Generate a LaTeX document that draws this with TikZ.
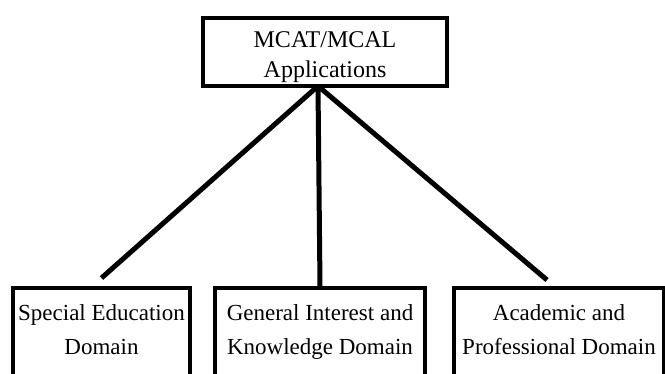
\documentclass[tikz,border=0pt]{standalone}
\usepackage{fontspec}
\setmainfont{Liberation Serif}

\begin{document}
\begin{tikzpicture}[x=1pt,y=-1pt,
	box/.style={draw,line width=4pt,align=center,inner xsep=2pt,inner ysep=4pt,anchor=north},
	domainbox/.style={box,text height=62pt,text depth=26pt,font=\fontsize{23}{34}\selectfont},
	link/.style={line width=5pt}]
\useasboundingbox (0,0) rectangle (665,373);

	% top box
	\node[box,minimum width=244pt,text height=55pt,text depth=5pt,font=\fontsize{24}{30}\selectfont] (apps) at (325,16) {MCAT/MCAL\\Applications};

	% the three domains
	\node[domainbox,minimum width=177pt] (special) at (101.5,286) {Special Education\\Domain};
	\node[domainbox,minimum width=210pt] (general) at (320,286) {General Interest and\\Knowledge Domain};
	\node[domainbox,minimum width=210pt] (academic) at (559,286) {Academic and\\Professional Domain};

	\coordinate (hub) at (318,86);
	\draw[link] (hub) -- ([yshift=8pt]special.north);
	\draw[link] (hub) -- (general.north);
	\draw[link] (hub) -- ([xshift=-12pt,yshift=6pt]academic.north);
\end{tikzpicture}
\end{document}
